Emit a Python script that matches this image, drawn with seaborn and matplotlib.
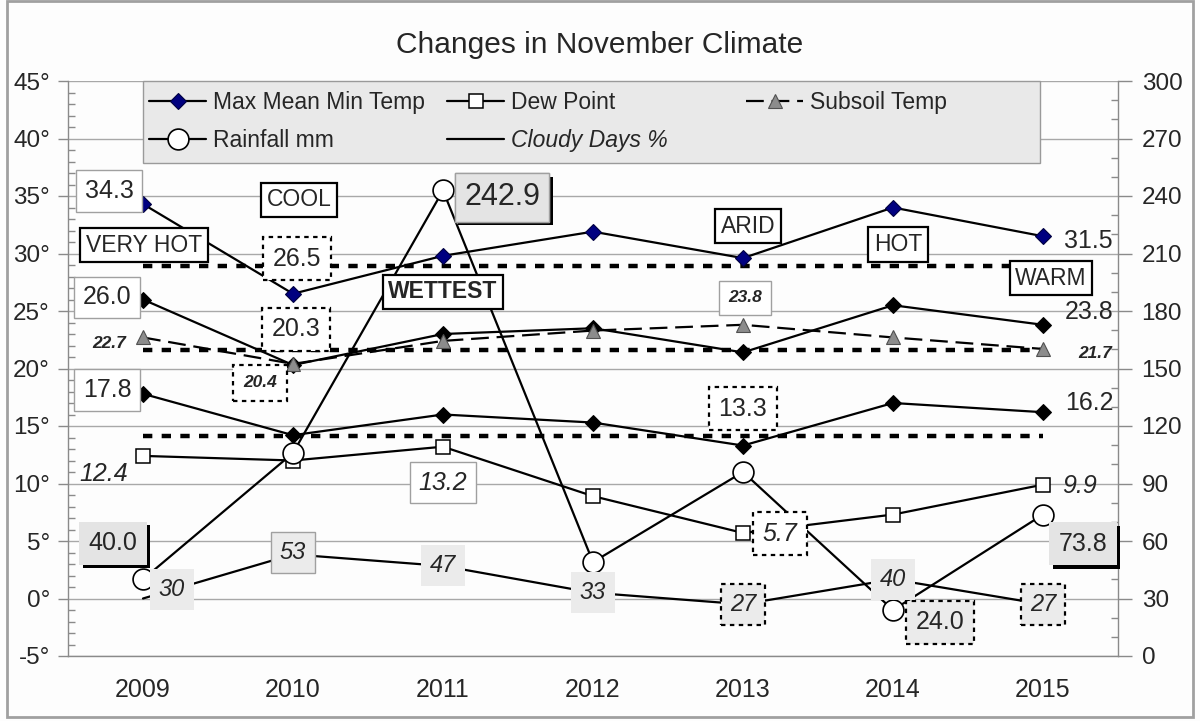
import numpy as np
import pandas as pd
import seaborn as sns
import matplotlib.pyplot as plt
import matplotlib.patheffects as pe
from matplotlib.patches import Rectangle

# data
years = ['2009', '2010', '2011', '2012', '2013', '2014', '2015']
max_temp = [34.3, 26.5, 29.8, 31.9, 29.6, 34.0, 31.5]
mean_temp = [26.0, 20.3, 23.0, 23.5, 21.4, 25.5, 23.8]
min_temp = [17.8, 14.2, 16.0, 15.3, 13.3, 17.0, 16.2]
dew_point = [12.4, 12.0, 13.2, 8.9, 5.7, 7.3, 9.9]
subsoil = [22.7, 20.4, 22.4, 23.3, 23.8, 22.7, 21.7]
rainfall = [40.0, 105.9, 242.9, 49.0, 96.0, 24.0, 73.8]
cloudy = [30, 53, 47, 33, 27, 40, 27]
avg_temps = [28.9, 21.6, 14.1]   # long term max / mean / min

W, H = 1200, 721
sns.set_style('white')
plt.rcParams['font.family'] = ['Liberation Sans', 'DejaVu Sans']

df = pd.DataFrame({'i': np.arange(len(years)), 'max': max_temp, 'mean': mean_temp,
                   'min': min_temp, 'dew': dew_point, 'sub': subsoil,
                   'rain': rainfall, 'cloud': cloudy})

fig = plt.figure(figsize=(W / 100, H / 100), dpi=100)
fig.patch.set_facecolor('#fdfdfd')
ax = fig.add_axes([68 / W, 1 - 656 / H, 1050 / W, 575 / H])
ax.set_facecolor('#fdfdfd')
ax2 = ax.twinx()

lw = 1.6
sns.lineplot(data=df, x='i', y='max', ax=ax, color='black', lw=lw, marker='D', ms=8,
             markerfacecolor='#000080', markeredgecolor='#000040', markeredgewidth=0.8, zorder=4)
h_temp = ax.lines[-1]
sns.lineplot(data=df, x='i', y='mean', ax=ax, color='black', lw=lw, marker='D', ms=8,
             markerfacecolor='black', markeredgecolor='black', zorder=4)
sns.lineplot(data=df, x='i', y='min', ax=ax, color='black', lw=lw, marker='D', ms=8,
             markerfacecolor='black', markeredgecolor='black', zorder=4)
sns.lineplot(data=df, x='i', y='dew', ax=ax, color='black', lw=lw, marker='s', ms=10,
             markerfacecolor='white', markeredgecolor='black', markeredgewidth=1.1, zorder=4)
h_dew = ax.lines[-1]
sns.lineplot(data=df, x='i', y='sub', ax=ax, color='black', lw=lw, marker='^', ms=10,
             markerfacecolor='#8c8c8c', markeredgecolor='#505050', markeredgewidth=0.8,
             dashes=False, linestyle=(0, (8, 3.5)), zorder=4)
h_sub = ax.lines[-1]
ax.hlines(avg_temps, df['i'].iloc[0], df['i'].iloc[-1], colors='black', lw=3.2,
          linestyles=[(0, (2.1, 2.1))], zorder=3)

sns.lineplot(data=df, x='i', y='rain', ax=ax2, color='black', lw=lw, marker='o', ms=15,
             markerfacecolor='white', markeredgecolor='black', markeredgewidth=1.2, zorder=4)
h_rain = ax2.lines[-1]
sns.lineplot(data=df, x='i', y='cloud', ax=ax2, color='black', lw=lw, zorder=4)
h_cloud = ax2.lines[-1]

# axes
ax.set_xlim(-0.5, len(years) - 0.5)
ax.set_ylim(-5, 45)
ax2.set_ylim(0, 300)
ax.set_xlabel('')
ax.set_ylabel('')
ax2.set_ylabel('')
grey = '#8a8a8a'
ax.set_xticks(np.arange(-0.5, len(years), 1))
ax.set_xticklabels([])
ax.set_xticks(df['i'], minor=True)
ax.set_xticklabels(years, minor=True, fontsize=18)
ax.tick_params(axis='x', which='major', direction='out', length=8, color=grey, width=1)
ax.tick_params(axis='x', which='minor', length=0, pad=16)
ax.set_yticks(np.arange(-5, 46, 5))
ax.set_yticklabels([f'{v}°' for v in range(-5, 46, 5)], fontsize=17.5)
ax.set_yticks(np.arange(-5, 46, 1), minor=True)
ax.tick_params(axis='y', which='major', direction='out', length=7, color=grey, width=1, pad=6)
ax.tick_params(axis='y', which='minor', direction='in', length=5, color=grey, width=1)
ax2.set_yticks(np.arange(0, 301, 30))
ax2.set_yticklabels([str(v) for v in range(0, 301, 30)], fontsize=17.5)
ax2.set_yticks(np.arange(0, 301, 10), minor=True)
ax2.tick_params(axis='y', which='major', direction='out', length=10, color=grey, width=1, pad=7)
ax2.tick_params(axis='y', which='minor', direction='in', length=5, color=grey, width=1)
ax.grid(axis='y', which='major', color='#a8a8a8', lw=1)
for s in ['top', 'right']:
    ax.spines[s].set_visible(False)
for s in ['top', 'left', 'bottom']:
    ax2.spines[s].set_visible(False)
for a in (ax, ax2):
    for s in a.spines.values():
        s.set_color(grey)
        s.set_linewidth(1)

# label boxes
dot = (0, (2, 2))
styles = {
    'plain': dict(boxstyle='square,pad=0.35', fc='white', ec='#a0a0a0', lw=1),
    'plainbig': dict(boxstyle='square,pad=0.55', fc='white', ec='#a0a0a0', lw=1),
    'solid': dict(boxstyle='square,pad=0.25', fc='white', ec='black', lw=1.6),
    'dotted': dict(boxstyle='square,pad=0.38', fc='white', ec='black', lw=1.6, ls=dot),
    'dotbig': dict(boxstyle='square,pad=0.6', fc='white', ec='black', lw=1.6, ls=dot),
    'grey': dict(boxstyle='square,pad=0.38', fc='#ebebeb', ec='none'),
    'greyline': dict(boxstyle='square,pad=0.38', fc='#ebebeb', ec='#a0a0a0', lw=1),
    'greydot': dict(boxstyle='square,pad=0.38', fc='#ebebeb', ec='black', lw=1.6, ls=dot),
    'shadow': dict(boxstyle='square,pad=0.38', fc='#e4e4e4', ec='none'),
    'shadowline': dict(boxstyle='square,pad=0.3', fc='#e4e4e4', ec='#a0a0a0', lw=1),
}

series = {'max': (max_temp, ax), 'mean': (mean_temp, ax), 'min': (min_temp, ax),
          'dew': (dew_point, ax), 'sub': (subsoil, ax),
          'rain': (rainfall, ax2), 'cloud': (cloudy, ax2)}

# (series, index, offset px right, offset px down, box, size, weight, style)
value_labels = [
    ('max', 0, -34, -13, 'plain', 18, 'normal', 'normal'),
    ('max', 1, 4, -35, 'dotted', 18, 'normal', 'normal'),
    ('max', 6, 45, 5, None, 18, 'normal', 'normal'),
    ('mean', 0, -36, -2, 'plain', 18, 'normal', 'normal'),
    ('mean', 1, 3, -36, 'dotted', 18, 'normal', 'normal'),
    ('mean', 6, 46, -13, None, 18, 'normal', 'normal'),
    ('min', 0, -36, -4, 'plain', 18, 'normal', 'normal'),
    ('min', 4, 0, -37, 'dotted', 18, 'normal', 'normal'),
    ('min', 6, 46, -9, None, 18, 'normal', 'normal'),
    ('sub', 0, -34, 6, None, 12.5, 'bold', 'italic'),
    ('sub', 1, -33, 19, 'dotbig', 12.5, 'bold', 'italic'),
    ('sub', 4, 2, -27, 'plainbig', 12.5, 'bold', 'italic'),
    ('sub', 6, 52, 5, None, 12.5, 'bold', 'italic'),
    ('dew', 0, -39, 18, None, 18, 'normal', 'italic'),
    ('dew', 2, 0, 36, 'plain', 18, 'normal', 'italic'),
    ('dew', 4, 37, 1, 'dotted', 18, 'normal', 'italic'),
    ('dew', 6, 37, 1, None, 18, 'normal', 'italic'),
    ('rain', 0, -30, -36, 'shadow', 18, 'normal', 'normal'),
    ('rain', 2, 59, 7, 'shadowline', 22, 'normal', 'normal'),
    ('rain', 5, 47, 12, 'greydot', 18, 'normal', 'normal'),
    ('rain', 6, 40, 29, 'shadow', 18, 'normal', 'normal'),
    ('cloud', 0, 29, -9, 'grey', 17, 'normal', 'italic'),
    ('cloud', 1, 0, -2, 'greyline', 17, 'normal', 'italic'),
    ('cloud', 2, 0, 0, 'grey', 17, 'normal', 'italic'),
    ('cloud', 3, 0, 0, 'grey', 17, 'normal', 'italic'),
    ('cloud', 4, 0, 0, 'greydot', 17, 'normal', 'italic'),
    ('cloud', 5, 0, 0, 'grey', 17, 'normal', 'italic'),
    ('cloud', 6, 0, 0, 'greydot', 17, 'normal', 'italic'),
]

# words hung off the max temp points
words = [('VERY HOT', 0, 1, 41, 'normal'), ('COOL', 1, 6, -94, 'normal'),
         ('WETTEST', 2, 0, 36, 'bold'), ('ARID', 4, 5, -32, 'normal'),
         ('HOT', 5, 5, 37, 'normal'), ('WARM', 6, 8, 42, 'normal')]

for key, i, dx, dy, st, size, weight, fst in value_labels:
    vals, a = series[key]
    v = vals[i]
    txt = f'{v:.1f}' if isinstance(v, float) else str(v)
    bbox = dict(styles[st]) if st else None
    t = ax2.annotate(txt, xy=(i, v), xycoords=a.transData, xytext=(dx * 0.72, -dy * 0.72),
                     textcoords='offset points', ha='center', va='center', fontsize=size,
                     fontweight=weight, fontstyle=fst, bbox=bbox, zorder=6)
    if st and st.startswith('shadow'):
        t.get_bbox_patch().set_path_effects([
            pe.withSimplePatchShadow(offset=(2.5, -2.5), shadow_rgbFace='black', alpha=1),
            pe.Normal()])

for txt, i, dx, dy, weight in words:
    ax2.annotate(txt, xy=(i, max_temp[i]), xycoords=ax.transData, xytext=(dx * 0.72, -dy * 0.72),
                 textcoords='offset points', ha='center', va='center', fontsize=16.5,
                 fontweight=weight, bbox=dict(styles['solid']), zorder=6)

# legend
fig.add_artist(Rectangle((143 / W, 1 - 163 / H), (1040 - 143) / W, (163 - 81) / H,
                         transform=fig.transFigure, fc='#e9e9e9', ec='#9a9a9a', lw=1, zorder=3))
leg_kw = dict(loc='upper left', frameon=False, fontsize=16.5, handlelength=2.5,
              handletextpad=0.3, labelspacing=0.67, borderpad=0, borderaxespad=0)
cols = [(149, [h_temp, h_rain], ['Max Mean Min Temp', 'Rainfall mm']),
        (447, [h_dew, h_cloud], ['Dew Point', 'Cloudy Days %']),
        (746, [h_sub], ['Subsoil Temp'])]
for x0, hs, labs in cols:
    lg = fig.legend(hs, labs, bbox_to_anchor=(x0 / W, 1 - 91 / H), **leg_kw)
    for t in lg.get_texts():
        if t.get_text().startswith('Cloudy'):
            t.set_fontstyle('italic')

fig.text(0.5, 1 - 45 / H, 'Changes in November Climate', ha='center', va='center', fontsize=21.5)
fig.add_artist(Rectangle((7 / W, 4 / H), (1193 - 7) / W, (720 - 4) / H, transform=fig.transFigure,
                         fill=False, ec='#a0a0a0', lw=2, zorder=0))

fig.savefig('out.png', dpi=100, facecolor=fig.get_facecolor())
